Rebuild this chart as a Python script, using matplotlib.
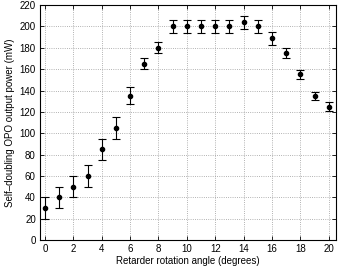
import matplotlib
matplotlib.use("Agg")
import matplotlib.pyplot as plt

angles = [0, 1, 2, 3, 4, 5, 6, 7, 8, 9, 10, 11, 12, 13, 14, 15, 16, 17, 18, 19, 20]
power = [30, 40, 50, 60, 85, 105, 135, 165, 180, 200, 200, 200, 200, 200, 204, 200, 189, 175, 155, 135, 125]
errors = [10, 10, 10, 10, 10, 10, 8, 5, 5, 6, 6, 6, 6, 6, 6, 6, 6, 4.5, 4.5, 4, 4.5]
xticks = [0, 2, 4, 6, 8, 10, 12, 14, 16, 18, 20]
yticks = [0, 20, 40, 60, 80, 100, 120, 140, 160, 180, 200, 220]

plt.rcParams['font.family'] = ['Liberation Sans', 'DejaVu Sans']
fig = plt.figure(figsize=(3.42, 2.67), dpi=100)
ax = fig.add_axes([0.117, 0.101, 0.865, 0.880])
ax.errorbar(angles, power, yerr=errors, fmt='o', color='black', markersize=3,
            elinewidth=0.8, capsize=3, capthick=0.8)
ax.set_xlim(-0.35, 20.5)
ax.set_ylim(0, 220)
ax.set_xticks(xticks)
ax.set_yticks(yticks)
ax.tick_params(direction='in', labelsize=7, length=3, width=0.6, top=True, right=True, pad=3)
ax.grid(True, linestyle=':', color='#999999', linewidth=0.6)
for s in ax.spines.values():
    s.set_linewidth(0.8)
ax.set_xlabel('Retarder rotation angle (degrees)', fontsize=7, labelpad=1)
ax.set_ylabel('Self\u2013doubling OPO output power (mW)', fontsize=7, labelpad=3)
fig.savefig('out.png', dpi=100)
